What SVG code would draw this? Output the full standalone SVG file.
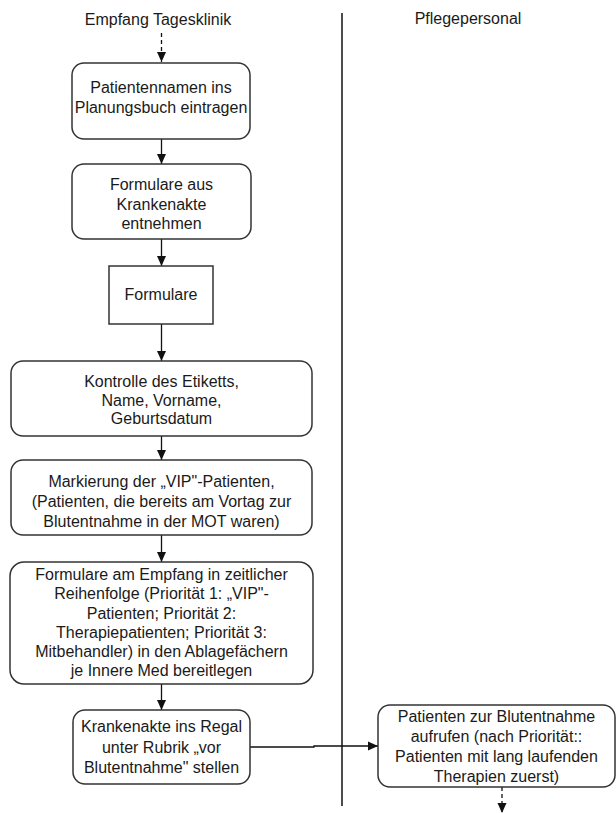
<svg xmlns="http://www.w3.org/2000/svg" width="616" height="813" viewBox="0 0 616 813">
  <style>
    .lane { font-family: "Liberation Sans", Arial, sans-serif; font-size: 16px; fill: #1a1a1a; text-anchor: middle; }
    .label { font-family: "Liberation Sans", Arial, sans-serif; font-size: 16px; fill: #1a1a1a; text-anchor: middle; }
    .box { fill: #ffffff; stroke: #333333; stroke-width: 1.5; }
    .edge { fill: none; stroke: #111111; stroke-width: 1.3; }
    .dashed { stroke-dasharray: 4 3; }
    .divider { stroke: #111111; stroke-width: 1.5; }
  </style>
  <defs>
    <marker id="arrow" markerUnits="userSpaceOnUse" markerWidth="12" markerHeight="12" viewBox="0 0 12 12" refX="11" refY="6" orient="auto">
      <path d="M1,1.5 L11,6 L1,10.5 Z" fill="#111111"/>
    </marker>
  </defs>

  <rect width="616" height="813" fill="#ffffff"/>

  <!-- swimlane headers and divider -->
  <g id="lanes">
    <text class="lane" x="158" y="25">Empfang Tagesklinik</text>
    <text class="lane" x="468" y="24">Pflegepersonal</text>
    <line class="divider" x1="342" y1="13" x2="342" y2="806"/>
  </g>

  <!-- connectors -->
  <g id="connectors">
    <line class="edge dashed" x1="161.5" y1="33" x2="161.5" y2="62" marker-end="url(#arrow)"/>
    <line class="edge" x1="161.5" y1="139" x2="161.5" y2="164" marker-end="url(#arrow)"/>
    <line class="edge" x1="161.5" y1="239" x2="161.5" y2="266" marker-end="url(#arrow)"/>
    <line class="edge" x1="161.5" y1="324" x2="161.5" y2="361" marker-end="url(#arrow)"/>
    <line class="edge" x1="161.5" y1="436" x2="161.5" y2="460" marker-end="url(#arrow)"/>
    <line class="edge" x1="161.5" y1="535" x2="161.5" y2="562" marker-end="url(#arrow)"/>
    <line class="edge" x1="161.5" y1="684" x2="161.5" y2="710" marker-end="url(#arrow)"/>
    <path class="edge" d="M250,747 H314 V746 H378" marker-end="url(#arrow)"/>
    <line class="edge dashed" x1="502" y1="787" x2="502" y2="813" marker-end="url(#arrow)"/>
  </g>

  <g id="n1">
    <rect class="box" x="72" y="63" width="178" height="76" rx="12"/>
    <text class="label" x="161" y="93">Patientennamen ins</text>
    <text class="label" x="161" y="113">Planungsbuch eintragen</text>
  </g>

  <g id="n2">
    <rect class="box" x="72" y="164" width="179" height="75" rx="12"/>
    <text class="label" x="161.5" y="190">Formulare aus</text>
    <text class="label" x="161.5" y="209.5">Krankenakte</text>
    <text class="label" x="161.5" y="229">entnehmen</text>
  </g>

  <g id="n3">
    <rect class="box" x="109" y="266" width="104" height="58"/>
    <text class="label" x="161" y="300">Formulare</text>
  </g>

  <g id="n4">
    <rect class="box" x="11" y="361" width="301" height="75" rx="12"/>
    <text class="label" x="161.5" y="387">Kontrolle des Etiketts,</text>
    <text class="label" x="161.5" y="405.5">Name, Vorname,</text>
    <text class="label" x="161.5" y="423.5">Geburtsdatum</text>
  </g>

  <g id="n5">
    <rect class="box" x="11" y="460" width="301" height="75" rx="12"/>
    <text class="label" x="161.5" y="487">Markierung der „VIP"-Patienten,</text>
    <text class="label" x="161.5" y="507">(Patienten, die bereits am Vortag zur</text>
    <text class="label" x="161.5" y="527">Blutentnahme in der MOT waren)</text>
  </g>

  <g id="n6">
    <rect class="box" x="10" y="562" width="303" height="122" rx="14"/>
    <text class="label" x="161.5" y="580">Formulare am Empfang in zeitlicher</text>
    <text class="label" x="161.5" y="599">Reihenfolge (Priorität 1: „VIP"-</text>
    <text class="label" x="161.5" y="618.5">Patienten; Priorität 2:</text>
    <text class="label" x="161.5" y="637.5">Therapiepatienten; Priorität 3:</text>
    <text class="label" x="161.5" y="656.5">Mitbehandler) in den Ablagefächern</text>
    <text class="label" x="161.5" y="676">je Innere Med bereitlegen</text>
  </g>

  <g id="n7">
    <rect class="box" x="73" y="710" width="177" height="74" rx="12"/>
    <text class="label" x="161.5" y="732">Krankenakte ins Regal</text>
    <text class="label" x="161.5" y="753">unter Rubrik „vor</text>
    <text class="label" x="161.5" y="773">Blutentnahme" stellen</text>
  </g>

  <g id="n8">
    <rect class="box" x="378" y="705" width="237" height="82" rx="12"/>
    <text class="label" x="496.5" y="722">Patienten zur Blutentnahme</text>
    <text class="label" x="496.5" y="742">aufrufen (nach Priorität::</text>
    <text class="label" x="496.5" y="762">Patienten mit lang laufenden</text>
    <text class="label" x="496.5" y="782">Therapien zuerst)</text>
  </g>
</svg>
